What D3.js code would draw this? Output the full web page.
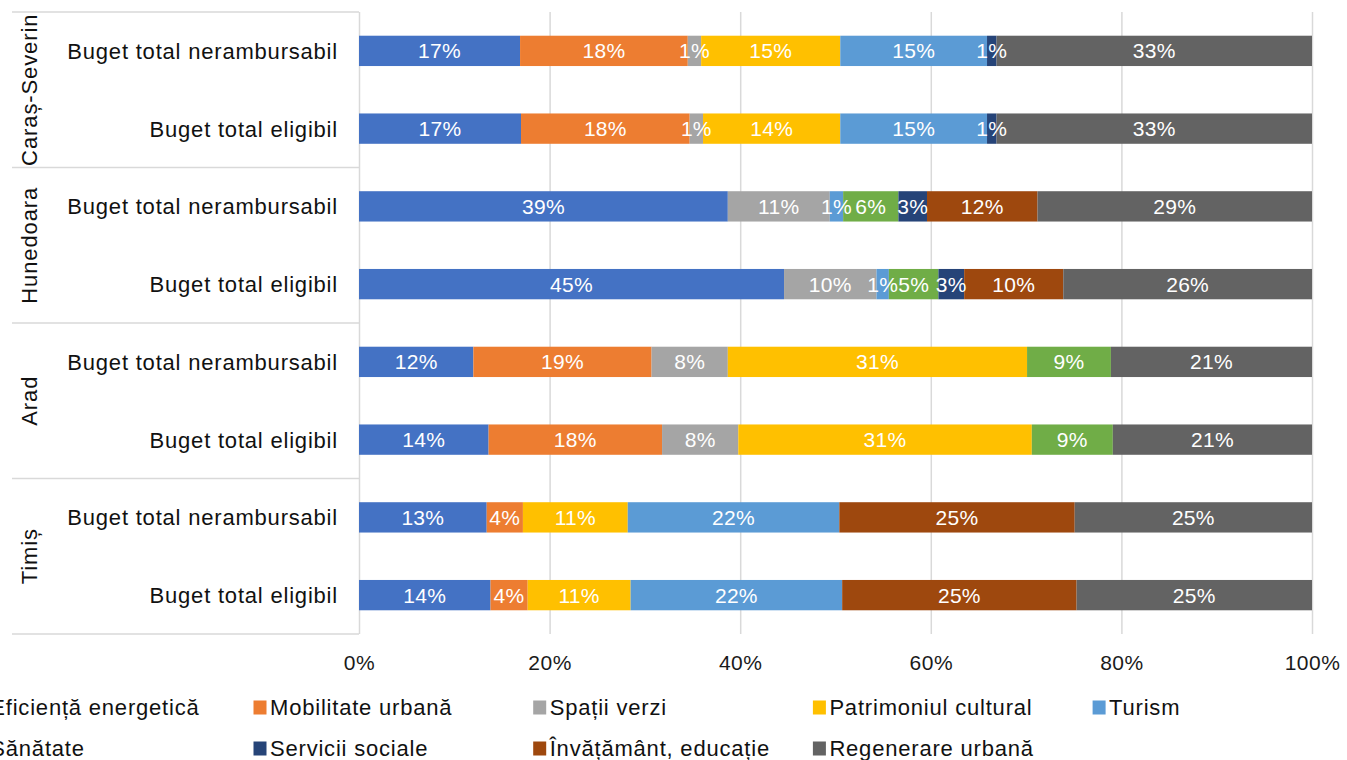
<!DOCTYPE html>
<html>
<head>
<meta charset="utf-8">
<script src="https://cdn.jsdelivr.net/npm/d3@7"></script>
<style>
  body { margin: 0; background: #fff; overflow: hidden; }
  text { font-family: "Liberation Sans", Arial, sans-serif; }
</style>
</head>
<body>
<svg id="chart" width="1347" height="760"></svg>
<script>
// rows, top to bottom
const counties = ['Caraș-Severin', 'Hunedoara', 'Arad', 'Timiș'];
const rowLabels = ['Buget total nerambursabil', 'Buget total eligibil'];

const seriesNames = ['Eficiență energetică', 'Mobilitate urbană', 'Spații verzi', 'Patrimoniul cultural',
  'Turism', 'Sănătate', 'Servicii sociale', 'Învățământ, educație', 'Regenerare urbană'];
const colors = ['#4472C4', '#ED7D31', '#A5A5A5', '#FFC000', '#5B9BD5', '#70AD47', '#264478', '#9E480E', '#636363'];

// percent of each row (Caraș nerb, Caraș elig, Hunedoara nerb, Hunedoara elig, Arad..., Timiș...)
const eficienta   = [16.9, 17.0, 38.7, 44.6, 12.0, 13.6, 13.4, 13.8];
const mobilitate  = [17.6, 17.7, 0, 0, 18.7, 18.2, 3.8, 3.9];
const spatiiVerzi = [1.4, 1.4, 10.7, 9.7, 8.0, 8.0, 0, 0];
const patrimoniu  = [14.6, 14.4, 0, 0, 31.4, 30.8, 11.0, 10.8];
const turism      = [15.4, 15.4, 1.4, 1.3, 0, 0, 22.2, 22.2];
const sanatate    = [0, 0, 5.8, 5.2, 8.8, 8.5, 0, 0];
const servicii    = [1.0, 1.0, 3.0, 2.7, 0, 0, 0, 0];
const invatamant  = [0, 0, 11.6, 10.4, 0, 0, 24.7, 24.6];
const regenerare  = [33.1, 33.1, 28.8, 26.1, 21.1, 20.9, 24.9, 24.7];

const xTicks = [0, 0.2, 0.4, 0.6, 0.8, 1];

const allSeries = [eficienta, mobilitate, spatiiVerzi, patrimoniu, turism, sanatate, servicii, invatamant, regenerare];

const svg = d3.select('#chart');
const plotLeft = 359, plotRight = 1312, plotTop = 12, plotBottom = 634;

const rows = [];
counties.forEach((c, ci) => rowLabels.forEach((r, ri) => {
  const i = ci * 2 + ri;
  const o = { id: i, county: c, label: r };
  seriesNames.forEach((s, si) => { o[s] = allSeries[si][i]; });
  rows.push(o);
}));

const stack = d3.stack().keys(seriesNames).offset(d3.stackOffsetExpand);
const stacked = stack(rows);

const x = d3.scaleLinear().domain([0, 1]).range([plotLeft, plotRight]);
const y = d3.scaleBand().domain(rows.map(d => d.id)).range([plotTop, plotBottom])
  .paddingInner(0.61).paddingOuter(0.305);
const step = y.step();

// gridlines + tick labels
const xAxis = svg.append('g')
  .attr('transform', 'translate(0,' + plotBottom + ')')
  .call(d3.axisBottom(x).tickValues(xTicks).tickSize(-(plotBottom - plotTop)).tickFormat(d3.format('.0%')));
xAxis.select('.domain').remove();
xAxis.selectAll('line').attr('stroke', '#D9D9D9').attr('stroke-width', 1.5);
xAxis.selectAll('text')
  .attr('y', 36)
  .attr('dy', 0)
  .attr('fill', '#1a1a1a')
  .style('font-size', '21px')
  .style('letter-spacing', '0.5px');

// category grouping lines
const groupLines = d3.range(counties.length + 1).map(k => plotTop + k * 2 * step);
svg.append('g').selectAll('line').data(groupLines).enter().append('line')
  .attr('x1', 12).attr('x2', plotLeft)
  .attr('y1', d => d).attr('y2', d => d)
  .attr('stroke', '#D9D9D9').attr('stroke-width', 1.5);

// bars
const layer = svg.append('g').selectAll('g').data(stacked).enter().append('g')
  .attr('fill', (d, i) => colors[i]);
layer.selectAll('rect').data(d => d).enter().append('rect')
  .attr('x', d => x(d[0]))
  .attr('y', d => y(d.data.id))
  .attr('width', d => x(d[1]) - x(d[0]))
  .attr('height', y.bandwidth());

// data labels
const lbl = svg.append('g').selectAll('g').data(stacked).enter().append('g');
lbl.selectAll('text').data(d => d.map(v => ({ v: v, key: d.key })).filter(e => e.v.data[e.key] > 0))
  .enter().append('text')
  .attr('x', e => (x(e.v[0]) + x(e.v[1])) / 2)
  .attr('y', e => y(e.v.data.id) + y.bandwidth() / 2)
  .attr('dy', '0.36em')
  .attr('text-anchor', 'middle')
  .attr('fill', '#fff')
  .style('font-size', '21px')
  .style('letter-spacing', '0.3px')
  .text(e => Math.round(e.v.data[e.key]) + '%');

// row labels
svg.append('g').selectAll('text').data(rows).enter().append('text')
  .attr('x', 338)
  .attr('y', d => y(d.id) + y.bandwidth() / 2)
  .attr('dy', '0.36em')
  .attr('text-anchor', 'end')
  .attr('fill', '#111')
  .style('font-size', '22px')
  .style('letter-spacing', '0.8px')
  .text(d => d.label);

// county labels (rotated)
svg.append('g').selectAll('text').data(counties).enter().append('text')
  .attr('transform', (d, i) => 'translate(29,' + (plotTop + (i * 2 + 1) * step) + ') rotate(-90)')
  .attr('dy', '0.36em')
  .attr('text-anchor', 'middle')
  .attr('fill', '#111')
  .style('font-size', '22px')
  .style('letter-spacing', '0.9px')
  .text(d => d);

// legend
const colW = 279.7;
const legend = svg.append('g').selectAll('g').data(seriesNames).enter().append('g')
  .attr('transform', (d, i) => 'translate(' + ((i % 5) * colW - 9.7) + ',' + (715 + Math.floor(i / 5) * 41) + ')');
legend.append('rect')
  .attr('x', -16.5).attr('y', -14.5).attr('width', 13).attr('height', 14)
  .attr('fill', (d, i) => colors[i]);
legend.append('text')
  .attr('x', 0).attr('y', 0)
  .attr('fill', '#111')
  .style('font-size', '22px')
  .style('letter-spacing', '0.8px')
  .text(d => d);
</script>
</body>
</html>
